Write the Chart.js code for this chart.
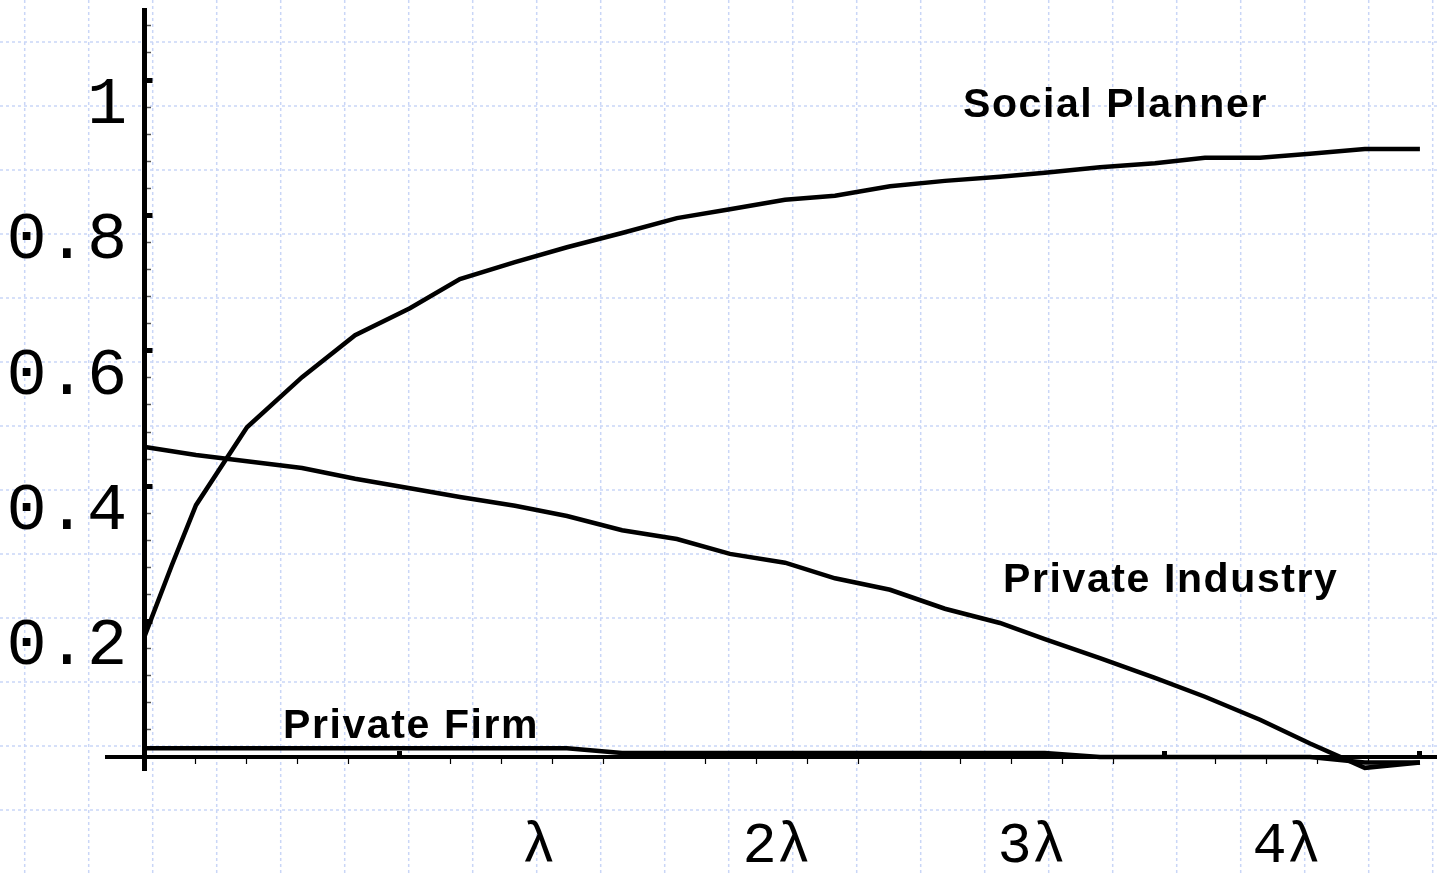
<!DOCTYPE html>
<html>
<head>
<meta charset="utf-8">
<script src="https://cdn.jsdelivr.net/npm/chart.js@4.4.1/dist/chart.umd.min.js"></script>
<style>
  html, body { margin: 0; padding: 0; background: #ffffff; overflow: hidden; }
  #wrap { width: 1437px; height: 873px; position: relative; }
</style>
</head>
<body>
<div id="wrap"><canvas id="c"></canvas></div>
<script>
// ---- data (x in units of lambda) ----
const xValues = [0, 0.106, 0.2, 0.4, 0.616, 0.824, 1.039, 1.235, 1.451, 1.655, 1.871, 2.086, 2.294, 2.51, 2.706, 2.922, 3.137, 3.353, 3.529, 3.745, 3.961, 4.157, 4.373, 4.569, 4.784, 5.0];
const socialPlanner = [0.18, 0.284, 0.372, 0.487, 0.561, 0.623, 0.663, 0.706, 0.731, 0.753, 0.774, 0.796, 0.809, 0.823, 0.829, 0.843, 0.851, 0.857, 0.863, 0.871, 0.877, 0.885, 0.885, 0.891, 0.898, 0.898];
const privateIndustry = [0.458, null, 0.446, 0.437, 0.427, 0.411, 0.397, 0.384, 0.371, 0.356, 0.335, 0.322, 0.300, 0.287, 0.264, 0.247, 0.219, 0.198, 0.174, 0.146, 0.117, 0.089, 0.055, 0.02, -0.016, -0.008];
const privateFirm = [0.013, null, 0.013, 0.013, 0.013, 0.013, 0.013, 0.013, 0.013, 0.013, 0.006, 0.006, 0.006, 0.006, 0.006, 0.006, 0.006, 0.006, 0.006, 0, 0, 0, 0, 0, -0.008, -0.008];

const seriesNames = ['Social Planner', 'Private Industry', 'Private Firm'];
const labelX = [3.208, 3.365, 0.541];
const labelY = [0.945, 0.2437, 0.028];

const xTickValues = [1, 2, 3, 4, 5];
const xTickLabels = ['λ', '2λ', '3λ', '4λ', ''];
const yTickValues = [0.2, 0.4, 0.6, 0.8, 1.0];
const yTickLabels = ['0.2', '0.4', '0.6', '0.8', '1'];

const X_MIN = -0.149, X_MAX = 5.067, Y_MIN = -0.0192, Y_MAX = 1.1034;
const Y_LABEL_X = -0.07;

const toPts = arr => xValues.map((x, i) => ({x: x, y: arr[i]}));
const isWhole = (v, step) => Math.abs(v / step - Math.round(v / step)) < 1e-6;
const zeroPad = s => { s.paddingLeft = 0; s.paddingRight = 0; s.paddingTop = 0; s.paddingBottom = 0; };

const paperGrid = {
  id: 'paperGrid',
  beforeDraw(chart) {
    const ctx = chart.ctx;
    const W = chart.width, H = chart.height;
    ctx.save();
    ctx.fillStyle = '#ffffff';
    ctx.fillRect(0, 0, W, H);
    ctx.strokeStyle = '#c9d6f7';
    ctx.lineWidth = 1.5;
    ctx.setLineDash([3, 3]);
    ctx.beginPath();
    for (let x = 24.7; x < W; x += 64) { ctx.moveTo(x, 0); ctx.lineTo(x, H); }
    for (let y = 42; y < H; y += 64) { ctx.moveTo(0, y); ctx.lineTo(W, y); }
    ctx.stroke();
    ctx.restore();
  }
};

const curveLabels = {
  id: 'curveLabels',
  afterDatasetsDraw(chart) {
    const ctx = chart.ctx;
    const sx = chart.scales.x, sy = chart.scales.y;
    ctx.save();
    ctx.fillStyle = '#000';
    ctx.font = 'bold 41px "Liberation Sans", Arial, sans-serif';
    ctx.letterSpacing = '1.6px';
    ctx.textAlign = 'left';
    ctx.textBaseline = 'alphabetic';
    seriesNames.forEach((name, i) => {
      ctx.fillText(name, sx.getPixelForValue(labelX[i]), sy.getPixelForValue(labelY[i]));
    });
    ctx.restore();
  }
};

const lineDs = (label, arr) => ({
  label: label,
  data: toPts(arr),
  borderColor: '#000',
  borderWidth: 4.5,
  pointRadius: 0,
  tension: 0,
  spanGaps: true,
  clip: false,
  xAxisID: 'x',
  yAxisID: 'y'
});

new Chart(document.getElementById('c'), {
  type: 'line',
  data: {
    datasets: [
      lineDs(seriesNames[0], socialPlanner),
      lineDs(seriesNames[1], privateIndustry),
      lineDs(seriesNames[2], privateFirm)
    ]
  },
  options: {
    responsive: true,
    maintainAspectRatio: false,
    animation: false,
    events: [],
    layout: { padding: { left: 107, right: 0, top: 10, bottom: 103 } },
    plugins: { legend: { display: false }, tooltip: { enabled: false } },
    scales: {
      x: {
        type: 'linear', position: { y: 0 }, min: X_MIN, max: X_MAX,
        border: { display: true, color: '#000', width: 4 },
        grid: { display: true, drawOnChartArea: false, drawTicks: true, tickLength: -8, tickWidth: 5, tickColor: '#000' },
        ticks: {
          display: true, color: '#000', font: { family: '"Liberation Mono", "Courier New", monospace', size: 57 },
          align: 'end', labelOffset: 156, padding: 64, autoSkip: false, maxRotation: 0, minRotation: 0,
          callback: (v, i) => xTickLabels[i] ?? ''
        },
        afterBuildTicks: s => { s.ticks = xTickValues.map(v => ({ value: v })); },
        afterFit: zeroPad
      },
      xMinor: {
        type: 'linear', axis: 'x', position: { y: 0 }, min: X_MIN, max: X_MAX,
        border: { display: false },
        grid: { display: true, drawOnChartArea: false, drawTicks: true, tickLength: 7, tickWidth: 1.2,
          tickColor: c => isWhole(c.tick.value, 1) ? 'rgba(0,0,0,0)' : '#000' },
        ticks: { display: false, stepSize: 0.2, includeBounds: false },
        afterFit: zeroPad
      },
      y: {
        type: 'linear', position: { x: 0 }, min: Y_MIN, max: Y_MAX,
        border: { display: true, color: '#000', width: 5 },
        grid: { display: true, drawOnChartArea: false, drawTicks: true, tickLength: -10.5, tickWidth: 5, tickColor: '#000' },
        ticks: { display: false },
        afterBuildTicks: s => { s.ticks = yTickValues.map(v => ({ value: v })); },
        afterFit: zeroPad
      },
      yMinor: {
        type: 'linear', axis: 'y', position: { x: 0 }, min: Y_MIN, max: Y_MAX,
        border: { display: false },
        grid: { display: true, drawOnChartArea: false, drawTicks: true, tickLength: -6, tickWidth: 1.5,
          tickColor: c => isWhole(c.tick.value, 0.2) ? 'rgba(0,0,0,0)' : '#555' },
        ticks: { display: false, stepSize: 0.04, includeBounds: false },
        afterFit: zeroPad
      },
      yl: {
        type: 'linear', axis: 'y', position: { x: Y_LABEL_X }, min: Y_MIN, max: Y_MAX,
        border: { display: false },
        grid: { display: false },
        ticks: {
          display: true, color: '#000', font: { family: '"Liberation Mono", "Courier New", monospace', size: 67 },
          padding: 0, labelOffset: 25, autoSkip: false,
          callback: (v, i) => yTickLabels[i] ?? ''
        },
        afterBuildTicks: s => { s.ticks = yTickValues.map(v => ({ value: v })); },
        afterFit: zeroPad
      }
    }
  },
  plugins: [paperGrid, curveLabels]
});
</script>
</body>
</html>
